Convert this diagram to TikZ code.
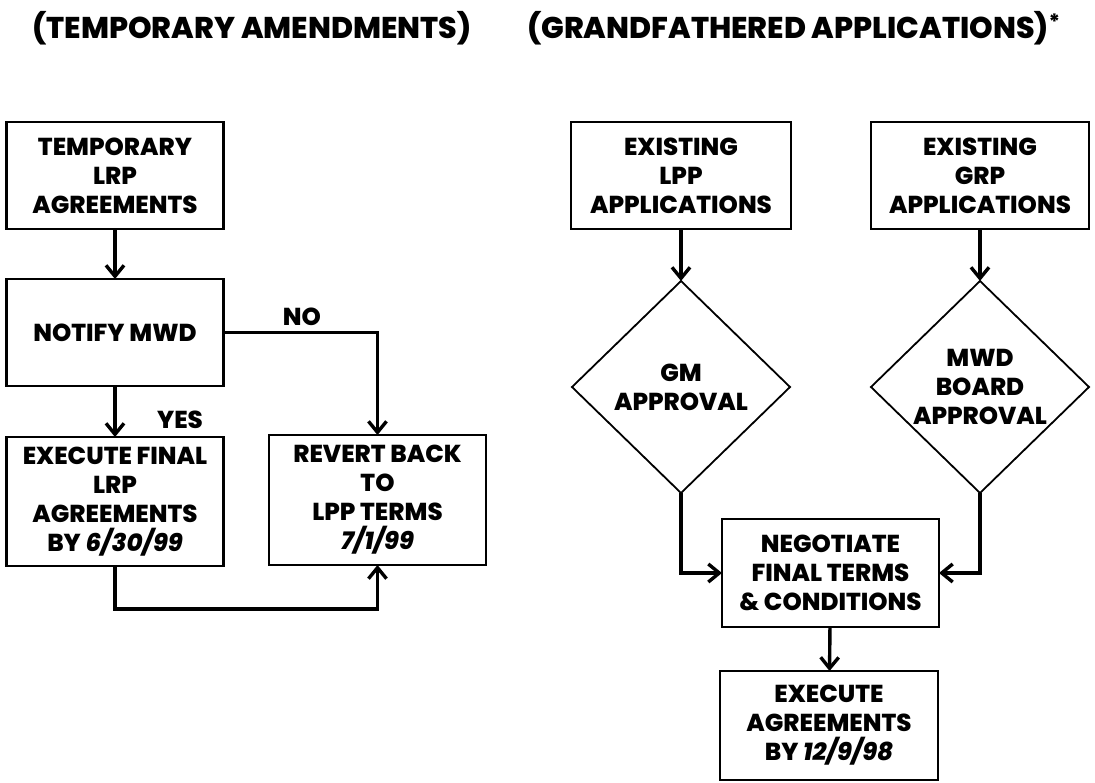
\documentclass[tikz,border=0pt]{standalone}
\usepackage{fontspec}
\setmainfont{Poppins}[BoldFont={Poppins ExtraBold}, BoldItalicFont={Poppins ExtraBold Italic}]
\newcommand*{\boxfont}{\fontsize{24.5}{29}\selectfont\bfseries}
\newcommand*{\headfont}{\fontsize{30}{36}\selectfont\bfseries}
\usetikzlibrary{arrows.meta}
\usetikzlibrary{shapes.geometric}
\tikzstyle{base}=[x=1pt, y=-1pt, inner sep=0pt, outer sep=0pt]
\tikzstyle{box}=[draw, line width=2.2pt, minimum width=217pt, minimum height=107pt, align=center, font=\boxfont]
\tikzstyle{decision}=[draw, diamond, line width=1.8pt, minimum width=218pt, minimum height=212pt, align=center, font=\boxfont]
\tikzstyle{arr}=[line width=3.4pt, line join=miter, -{Straight Barb[length=11pt, width=18pt]}]

\begin{document}
\begin{tikzpicture}[base]
    \path [use as bounding box] (0,0) rectangle (1095,782);
    % headings
    \node [font=\headfont] (headtemp) at (252,28) {(TEMPORARY AMENDMENTS)};
    \node [font=\headfont] (headgrand) at (794,28) {(GRANDFATHERED APPLICATIONS)\textsuperscript{*}};

    % temporary amendments
    \node [box] (temp) at (115,175.5) {TEMPORARY\\LRP\\AGREEMENTS};
    \node [box] (notify) at (115,332.5) {NOTIFY MWD};
    \node [box, minimum height=129pt] (execfinal) at (115,501.5) {EXECUTE FINAL\\LRP\\AGREEMENTS\\BY \textit{6/30/99}};
    \node [box, minimum height=130pt] (revert) at (377.5,500) {REVERT BACK\\TO\\LPP TERMS\\\textit{7/1/99}};
    \node [font=\boxfont] (no) at (302,317) {NO};
    \node [font=\boxfont] (yes) at (180,420) {YES};

    \draw [arr] (temp) -- (notify);
    \draw [arr] (notify) -- (execfinal);
    \draw [arr] (notify.east) -| (revert.north);
    \draw [arr] (execfinal.south) -- ++(0,43) -| (revert.south);

    % grandfathered applications
    \node [box, minimum width=220pt] (lpp) at (681,175.5) {EXISTING\\LPP\\APPLICATIONS};
    \node [box, minimum width=218pt] (grp) at (980,175.5) {EXISTING\\GRP\\APPLICATIONS};
    \node [decision] (gm) at (681,387) {GM\\APPROVAL};
    \node [decision] (board) at (980,387) {MWD\\BOARD\\APPROVAL};
    \node [box, minimum height=108pt] (negotiate) at (830.5,573) {NEGOTIATE\\FINAL TERMS\\\& CONDITIONS};
    \node [box, minimum width=218pt, minimum height=109pt] (execute) at (829,725.5) {EXECUTE\\AGREEMENTS\\BY \textit{12/9/98}};

    \draw [arr] (lpp) -- (gm);
    \draw [arr] (grp) -- (board);
    \draw [arr] (gm.south) |- (negotiate.west);
    \draw [arr] (board.south) |- (negotiate.east);
    \draw [arr] (negotiate) -- (execute);
\end{tikzpicture}
\end{document}
